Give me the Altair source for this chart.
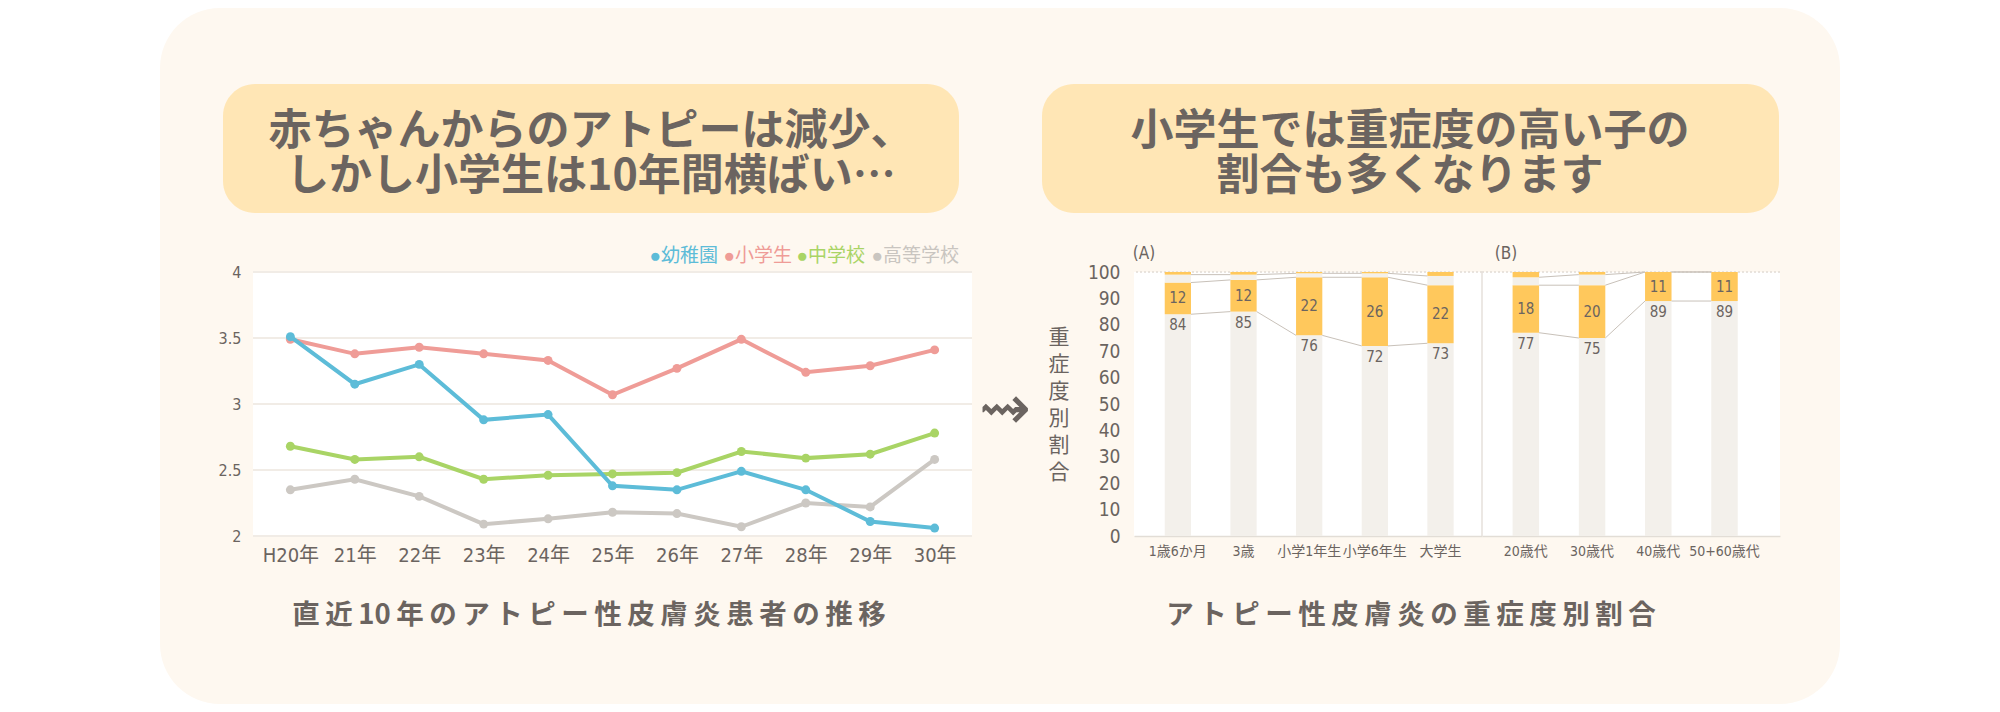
import altair as alt
import pandas as pd

# ---------------- left chart data ----------------
years = ["H20年", "21年", "22年", "23年", "24年", "25年", "26年", "27年", "28年", "29年", "30年"]
kindergarten = [3.51, 3.15, 3.30, 2.88, 2.92, 2.38, 2.35, 2.49, 2.35, 2.11, 2.06]
elementary = [3.49, 3.38, 3.43, 3.38, 3.33, 3.07, 3.27, 3.49, 3.24, 3.29, 3.41]
junior_high = [2.68, 2.58, 2.60, 2.43, 2.46, 2.47, 2.48, 2.64, 2.59, 2.62, 2.78]
high_school = [2.35, 2.43, 2.30, 2.09, 2.13, 2.18, 2.17, 2.07, 2.25, 2.22, 2.58]
series_names = ["幼稚園", "小学生", "中学校", "高等学校"]
series_colors = ["#5DBCD8", "#EF9C97", "#A9D465", "#CCC8C3"]
legend_colors = ["#5DBCD8", "#EF9C97", "#A9D465", "#C9C5C0"]
left_ticks = [2, 2.5, 3, 3.5, 4]

# ---------------- right chart data ----------------
severity_levels = ["軽症", "中等症", "重症", "最重症"]
cats_a = ["1歳6か月", "3歳", "小学1年生", "小学6年生", "大学生"]
mild_a = [84, 85, 76, 72, 73]
moderate_a = [12, 12, 22, 26, 22]
severe_a = [3, 2, 1.5, 1.5, 3.5]
most_a = [1, 1, 0.5, 0.5, 1.5]
cats_b = ["20歳代", "30歳代", "40歳代", "50+60歳代"]
mild_b = [77, 75, 89, 89]
moderate_b = [18, 20, 11, 11]
severe_b = [3, 4, 0, 0]
most_b = [2, 1, 0, 0]
right_ticks = list(range(0, 101, 10))

# ---------------- texts ----------------
title_left = ["赤ちゃんからのアトピーは減少、", "しかし小学生は10年間横ばい…"]
title_right = ["小学生では重症度の高い子の", "割合も多くなります"]
caption_left = "直近10年のアトピー性皮膚炎患者の推移"
caption_right = "アトピー性皮膚炎の重症度別割合"
y_title_right = "重症度別割合"
label_a = "(A)"
label_b = "(B)"
arrow = "⇝"

# ---------------- styles ----------------
JP = "'Noto Sans CJK JP', sans-serif"
NUM = "'Liberation Sans Narrow', 'DejaVu Sans Condensed', 'Noto Sans CJK JP', sans-serif"
LEG = "'Liberation Sans', 'Noto Sans CJK JP', sans-serif"
TXT = "#6B6460"
CREAM = "#FEF8F0"
BOX = "#FFE6B5"
ORANGE = "#FFC85C"
LIGHT = "#F3F0EB"
H = 264
LW = 719

dummy = pd.DataFrame({"d": [0]})


def tracked(s, sep="\u2009"):
    out = ""
    for i, ch in enumerate(s):
        out += ch
        if i < len(s) - 1 and not (ch.isdigit() and s[i + 1].isdigit()):
            out += sep
    return out


def rect(x1, x2, y1, y2, color, r):
    return alt.Chart(dummy).mark_rect(color=color, cornerRadius=r).encode(
        x=alt.value(x1), x2=alt.value(x2), y=alt.value(y1), y2=alt.value(y2))


def text(t, x, y, size, color=TXT, weight="normal", align="center", font=JP, line_height=None, baseline="middle"):
    kw = dict(fontSize=size, color=color, fontWeight=weight, align=align, font=font, baseline=baseline)
    if line_height:
        kw["lineHeight"] = line_height
        kw["lineBreak"] = "\n"
    return alt.Chart(dummy).mark_text(**kw).encode(x=alt.value(x), y=alt.value(y), text=alt.value(t))


# ---------------- left panel ----------------
xs_left = alt.Scale(domain=years, type="point", padding=0.58)
ys_left = alt.Scale(domain=[2, 4], nice=False)
ax_xl = alt.Axis(title=None, labelAngle=0, labelFontSize=20, labelColor=TXT, labelFont=NUM,
                 domain=False, ticks=False, grid=False, labelPadding=9, zindex=1)
ax_yl = alt.Axis(title=None, values=left_ticks, format="~g", labelFontSize=16, labelColor=TXT, labelFont=NUM,
                 domain=False, ticks=False, grid=False, labelPadding=12, zindex=1)

layers = [
    rect(-93, 1587, -264, 432, CREAM, 60),
    rect(-30, 706, -188, -59, BOX, 32),
    rect(789, 1526, -188, -59, BOX, 32),
    text(title_left[0], 338, -140, 43, weight="bold"),
    text(title_left[1], 338, -95, 43, weight="bold"),
    text(title_right[0], 1157, -140, 43, weight="bold"),
    text(title_right[1], 1157, -95, 43, weight="bold"),
    text(tracked(caption_left), 336, 344, 27.5, weight="bold"),
    text(tracked(caption_right), 1158, 344, 27.5, weight="bold"),
    rect(0, LW, 0, H, "white", 0),
]

grid_df = pd.DataFrame({"tick": left_ticks})
layers.append(alt.Chart(grid_df).mark_rule(color="#F1ECE6", strokeWidth=2).encode(
    y=alt.Y("tick:Q", scale=ys_left, axis=ax_yl)))

series_values = dict(zip(series_names, [kindergarten, elementary, junior_high, high_school]))
series_color_map = dict(zip(series_names, series_colors))
for name in ["高等学校", "中学校", "小学生", "幼稚園"]:
    df = pd.DataFrame({"year": years, "value": series_values[name]})
    enc = dict(x=alt.X("year:N", scale=xs_left, axis=ax_xl),
               y=alt.Y("value:Q", scale=ys_left, axis=ax_yl))
    layers.append(alt.Chart(df).mark_line(color=series_color_map[name], strokeWidth=4).encode(**enc))
    layers.append(alt.Chart(df).mark_circle(color=series_color_map[name], size=80, opacity=1).encode(**enc))

legend_right_x = [465, 539, 612, 706]
for name, col, lx in zip(series_names, legend_colors, legend_right_x):
    layers.append(text("●" + name, lx, -16, 19, color=col, align="right", font=LEG))

left = alt.layer(*layers).properties(width=LW, height=H)

# ---------------- spacer with arrow ----------------
spacer = text(arrow, 33, 138, 62, font="'DejaVu Sans', sans-serif").properties(width=162, height=H)


# ---------------- bar panels ----------------
def bar_panel(cats, mild, moderate, severe, most, width, pad_outer, align, show_y, extra):
    rows = []
    for c, vals in zip(cats, zip(mild, moderate, severe, most)):
        lo = 0
        for lvl, v in zip(severity_levels, vals):
            rows.append({"cat": c, "level": lvl, "lo": lo, "hi": lo + v})
            lo += v
    bars_df = pd.DataFrame(rows)
    lab_df = pd.DataFrame({"cat": cats, "mild": mild, "mod": moderate,
                           "mid": [a + b / 2 for a, b in zip(mild, moderate)]})
    conn = []
    for i in range(len(cats) - 1):
        c1 = [mild[i], mild[i] + moderate[i], mild[i] + moderate[i] + severe[i]]
        c2 = [mild[i + 1], mild[i + 1] + moderate[i + 1], mild[i + 1] + moderate[i + 1] + severe[i + 1]]
        for a, b in zip(c1, c2):
            conn.append({"c1": cats[i], "c2": cats[i + 1], "y1": a, "y2": b})
    conn_df = pd.DataFrame(conn)

    xs = alt.Scale(domain=cats, paddingInner=0.6, paddingOuter=pad_outer, align=align)
    ys = alt.Scale(domain=[0, 100], nice=False)
    xax = alt.Axis(title=None, labelAngle=0, labelFontSize=14, labelColor=TXT, labelFont=NUM,
                   domain=True, domainColor="#E2DDD6", domainWidth=1.5, ticks=False, labelPadding=8, grid=False)
    if show_y:
        yax = alt.Axis(title=None, values=right_ticks, labelFontSize=19, labelColor=TXT, labelFont=NUM,
                       domain=False, ticks=False, grid=False, labelPadding=14)
    else:
        yax = None

    lay = [
        alt.Chart(dummy).mark_rule(color="#E2DCD5", strokeDash=[2, 2], strokeWidth=1.5).encode(
            y=alt.Y(datum=100, scale=ys, axis=yax)),
        alt.Chart(bars_df).mark_bar().encode(
            x=alt.X("cat:N", scale=xs, axis=xax),
            y=alt.Y("lo:Q", scale=ys, axis=yax),
            y2="hi:Q",
            color=alt.Color("level:N", scale=alt.Scale(domain=severity_levels,
                                                        range=[LIGHT, ORANGE, LIGHT, ORANGE]), legend=None)),
        alt.Chart(conn_df).mark_rule(color="#C8C1B9", strokeWidth=1).encode(
            x=alt.X("c1:N", scale=xs, axis=xax, bandPosition=1),
            x2=alt.X2("c2:N", bandPosition=0),
            y=alt.Y("y1:Q", scale=ys, axis=yax),
            y2="y2:Q"),
        alt.Chart(lab_df).mark_text(baseline="top", dy=4, fontSize=15, color=TXT, font=NUM).encode(
            x=alt.X("cat:N", scale=xs, axis=xax),
            y=alt.Y("mild:Q", scale=ys, axis=yax),
            text=alt.Text("mild:Q", format="d")),
        alt.Chart(lab_df).mark_text(baseline="middle", fontSize=15, color=TXT, font=NUM).encode(
            x=alt.X("cat:N", scale=xs, axis=xax),
            y=alt.Y("mid:Q", scale=ys, axis=yax),
            text=alt.Text("mod:Q", format="d")),
    ] + extra
    return alt.layer(*lay).properties(width=width, height=H,
                                      view=alt.ViewBackground(fill="white", stroke=None))


panel_a = bar_panel(cats_a, mild_a, moderate_a, severe_a, most_a, 348, 0.45, 0.52, True, [
    text("\n".join(y_title_right), -75, 66, 21, line_height=27),
    text(label_a, 10, -18, 17, font=NUM),
])
panel_b = bar_panel(cats_b, mild_b, moderate_b, severe_b, most_b, 298, 0.55, 0.42, False, [
    alt.Chart(dummy).mark_rule(color="#E6E1DB", strokeWidth=1.5).encode(
        x=alt.value(0), y=alt.value(0), y2=alt.value(H)),
    text(label_b, 24, -18, 17, font=NUM),
])

chart = alt.hconcat(left, spacer, panel_a, panel_b, spacing=0, bounds="flush").properties(
    padding={"left": 152, "top": 0, "right": 0, "bottom": 0},
    background="white",
).configure_view(stroke=None)

chart.save("out.html", embed_options={"renderer": "svg", "actions": False})
